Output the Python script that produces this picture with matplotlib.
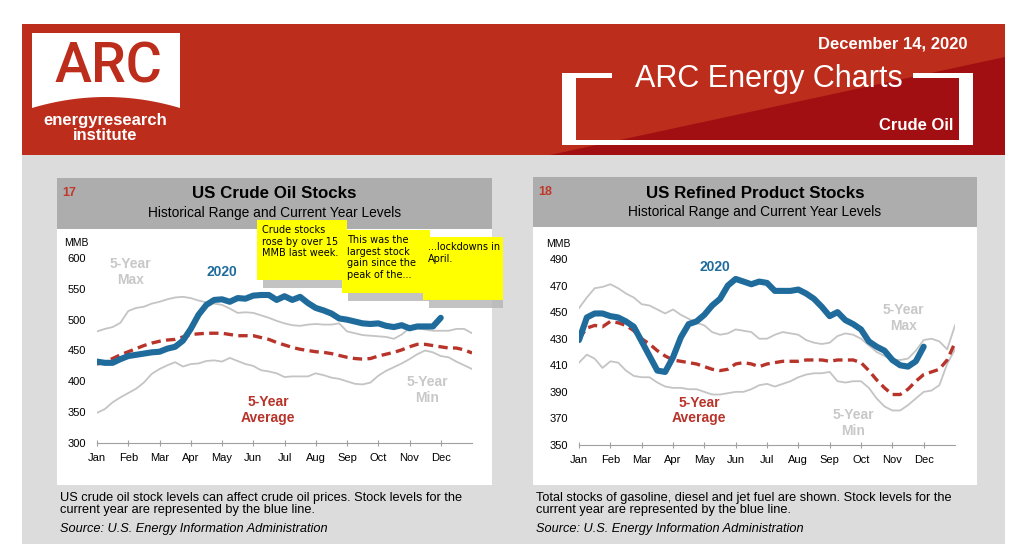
#!/usr/bin/env python3
"""ARC Energy Charts: US crude oil and refined product stocks (Dec 14, 2020)."""

import matplotlib

matplotlib.use("Agg")
import matplotlib.pyplot as plt
import numpy as np
from matplotlib.patches import Polygon, Rectangle

plt.rcParams["font.family"] = ["Liberation Sans", "DejaVu Sans"]

MONTHS = ["Jan", "Feb", "Mar", "Apr", "May", "Jun",
          "Jul", "Aug", "Sep", "Oct", "Nov", "Dec"]
STEP = 0.25  # months between samples (roughly weekly)

# --- US crude oil stocks, MMB ---
crude_2020 = [432, 430, 430, 436, 441, 443, 445, 447, 448, 453, 456, 466, 485,
              508, 524, 532, 533, 529, 535, 534, 539, 540, 540, 532, 538, 532,
              537, 527, 519, 515, 510, 502, 500, 497, 494, 493, 494, 490, 488,
              491, 486, 489, 489, 489, 503]
crude_max = [481, 485, 488, 495, 514, 519, 521, 526, 529, 533, 536, 537, 535,
             531, 528, 526, 524, 518, 511, 512, 511, 507, 503, 498, 494, 491,
             490, 492, 493, 492, 492, 494, 481, 478, 475, 474, 473, 472, 469,
             476, 486, 486, 484, 482, 482, 482, 485, 485, 478]
crude_min = [349, 355, 366, 374, 381, 388, 398, 412, 420, 426, 431, 424, 428,
             429, 433, 434, 432, 438, 433, 428, 425, 418, 416, 413, 407, 408,
             408, 408, 413, 410, 406, 404, 400, 396, 395, 398, 409, 417, 423,
             429, 436, 444, 450, 447, 441, 439, 432, 426, 420]
crude_avg = [428, 431, 437, 443, 448, 453, 458, 462, 465, 467, 468, 472, 476,
             477, 478, 478, 478, 476, 474, 474, 474, 471, 468, 463, 459, 455,
             452, 450, 448, 447, 445, 442, 439, 437, 436, 437, 441, 444, 447,
             451, 456, 460, 460, 458, 456, 454, 454, 451, 446]

# --- US refined product stocks, MMB ---
product_2020 = [429, 446, 449, 449, 447, 446, 443, 439, 428, 417, 406, 405, 416,
                431, 441, 443, 448, 455, 460, 470, 475, 473, 471, 473, 472, 466,
                466, 466, 467, 464, 460, 454, 447, 450, 444, 441, 437, 428, 424,
                421, 414, 410, 409, 413, 424]
product_max = [453, 461, 468, 469, 471, 468, 464, 461, 456, 455, 452, 449, 452,
               448, 445, 442, 440, 435, 433, 434, 437, 436, 435, 430, 430, 433,
               435, 434, 433, 429, 427, 426, 427, 432, 434, 433, 430, 425, 420,
               417, 414, 414, 415, 421, 429, 430, 428, 422, 440]
product_min = [412, 418, 415, 408, 413, 412, 406, 402, 401, 401, 397, 394, 393,
               393, 392, 392, 390, 388, 388, 389, 390, 390, 392, 395, 396, 394,
               396, 398, 401, 403, 404, 404, 405, 398, 397, 398, 398, 393, 385,
               379, 376, 376, 380, 385, 390, 391, 395, 411, 422]
product_avg = [430, 438, 440, 439, 443, 442, 440, 436, 430, 426, 421, 417, 414,
               413, 412, 411, 409, 407, 406, 407, 411, 412, 411, 409, 411, 412,
               413, 413, 413, 414, 414, 414, 413, 414, 414, 414, 412, 406, 399,
               393, 388, 388, 392, 398, 403, 405, 407, 414, 427]

crude_yticks = [300, 350, 400, 450, 500, 550, 600]
product_yticks = [350, 370, 390, 410, 430, 450, 470, 490]

RED = "#BD2D1C"
DARK_RED = "#A10F12"
BAND = "#DCDCDC"
TITLE_BOX = "#ADADAD"
BLUE = "#1E6B9C"
AVG_RED = "#B8342B"
RANGE_GRAY = "#C4C4C4"
LABEL_GRAY = "#C8C8C8"
NOTE_YELLOW = "#FFFF00"
NOTE_SHADOW = "#B4B4B4"

W, H = 1024, 544


def fig_rect(x0, y0, x1, y1):
    """Pixel box (top-left origin) -> figure fraction rect."""
    return [x0 / W, 1 - y1 / H, (x1 - x0) / W, (y1 - y0) / H]


def draw_header(bg):
    bg.add_patch(Rectangle((22, 24), 983, 131, color=RED, lw=0))
    bg.add_patch(Polygon([(550, 155), (1005, 57), (1005, 155)],
                         closed=True, color=DARK_RED, lw=0))
    bg.add_patch(Rectangle((22, 155), 983, H - 155, color=BAND, lw=0))

    # logo: white banner with a curved bottom edge
    xs = np.linspace(32, 180, 60)
    bottom = 97 + 11 * ((xs - 106) / 74) ** 2
    outline = [(32, 33), (180, 33)] + list(zip(xs[::-1], bottom[::-1]))
    bg.add_patch(Polygon(outline, closed=True, color="white", lw=0))
    bg.text(108, 67, "ARC", color=RED, fontsize=40, fontweight="medium",
            ha="center", va="center", family=["Roboto", "Liberation Sans"])
    bg.text(105, 121, "energyresearch", color="white", fontsize=12,
            fontweight="bold", ha="center", va="center")
    bg.text(105, 136, "institute", color="white", fontsize=12,
            fontweight="bold", ha="center", va="center")

    bg.text(968, 44, "December 14, 2020", color="white", fontsize=12,
            fontweight="bold", ha="right", va="center")
    for x, y, w, h in [(562, 73, 14, 72), (562, 73, 50, 5), (562, 140, 411, 5),
                       (959, 73, 14, 72), (913, 73, 60, 5)]:
        bg.add_patch(Rectangle((x, y), w, h, color="white", lw=0))
    bg.text(769, 79, "ARC Energy Charts", color="white", fontsize=22,
            ha="center", va="center")
    bg.text(953, 126, "Crude Oil", color="white", fontsize=12,
            fontweight="bold", ha="right", va="center")


def draw_panel(bg, x0, x1, y_title, y_white, number, title, caption):
    bg.add_patch(Rectangle((x0, y_title), x1 - x0, y_white - y_title,
                           color=TITLE_BOX, lw=0))
    bg.add_patch(Rectangle((x0, y_white), x1 - x0, 485 - y_white,
                           color="white", lw=0))
    cx = (x0 + x1) / 2
    bg.text(x0 + 5, y_title + 15, number, color="#C0392B", fontsize=9,
            fontweight="bold", ha="left", va="center")
    bg.text(cx, y_title + 16, title, fontsize=12.2, fontweight="bold",
            ha="center", va="center")
    bg.text(cx, y_title + 35, "Historical Range and Current Year Levels",
            fontsize=9.9, ha="center", va="center")
    bg.text(x0 + 3, 504, caption, fontsize=9.2, ha="left", va="center",
            linespacing=0.92)
    bg.text(x0 + 3, 529, "Source: U.S. Energy Information Administration",
            fontsize=9.2, style="italic", ha="left", va="center")


def draw_chart(ax, series_2020, series_max, series_min, series_avg,
               yticks, labels):
    n = len(series_max)
    x_full = np.arange(n) * STEP
    x_2020 = np.arange(len(series_2020)) * STEP

    ax.plot(x_full, series_max, color=RANGE_GRAY, lw=1.3, zorder=2)
    ax.plot(x_full, series_min, color=RANGE_GRAY, lw=1.3, zorder=2)
    ax.plot(x_full, series_avg, color=AVG_RED, lw=2.4, dashes=(2.8, 1.6),
            zorder=3)
    ax.plot(x_2020, series_2020, color=BLUE, lw=4.4, solid_joinstyle="round",
            solid_capstyle="round", zorder=4)

    ax.set_facecolor("none")
    ax.set_xlim(0, 12)
    ax.set_ylim(yticks[0], yticks[-1])
    ax.set_xticks(range(12))
    ax.set_xticklabels(MONTHS)
    ax.set_yticks(yticks)
    for side in ("left", "right", "top"):
        ax.spines[side].set_visible(False)
    ax.spines["bottom"].set_color("#A0A0A0")
    ax.tick_params(axis="x", length=4, direction="inout", color="#A0A0A0",
                   labelsize=8, pad=5)
    ax.tick_params(axis="y", length=0, labelsize=8, pad=8)
    ax.text(-0.022, 1.08, "MMB", transform=ax.transAxes, fontsize=7.5,
            ha="right", va="center")

    for text, x, y, color in labels:
        ax.text(x, y, text, color=color, fontsize=10, fontweight="bold",
                ha="center", va="center", linespacing=1.15)


def draw_notes(overlay):
    notes = [
        (257, 220, 347, 280, "Crude stocks\nrose by over 15\nMMB last week."),
        (342, 230, 430, 293,
         "This was the\nlargest stock\ngain since the\npeak of the..."),
        (423, 237, 503, 300, "...lockdowns in\nApril."),
    ]
    for x0, y0, x1, y1, text in notes:
        overlay.add_patch(Rectangle((x0 + 6, y0 + 8), x1 - x0 - 6, y1 - y0,
                                    color=NOTE_SHADOW, lw=0, alpha=0.8))
        overlay.add_patch(Rectangle((x0, y0), x1 - x0, y1 - y0,
                                    color=NOTE_YELLOW, lw=0))
        overlay.text(x0 + 5, y0 + 5, text, fontsize=7, ha="left", va="top",
                     family="DejaVu Sans", linespacing=1.2)


def main():
    fig = plt.figure(figsize=(W / 100, H / 100), dpi=100)
    fig.patch.set_facecolor("white")

    bg = fig.add_axes([0, 0, 1, 1])
    bg.set_xlim(0, W)
    bg.set_ylim(H, 0)
    bg.axis("off")

    draw_header(bg)
    draw_panel(bg, 57, 492, 178, 229, "17", "US Crude Oil Stocks",
               "US crude oil stock levels can affect crude oil prices. "
               "Stock levels for the\ncurrent year are represented by the "
               "blue line.")
    draw_panel(bg, 533, 977, 177, 227, "18", "US Refined Product Stocks",
               "Total stocks of gasoline, diesel and jet fuel are shown. "
               "Stock levels for the\ncurrent year are represented by the "
               "blue line.")

    ax1 = fig.add_axes(fig_rect(97, 258, 472, 443))
    draw_chart(ax1, crude_2020, crude_max, crude_min, crude_avg, crude_yticks,
               [("5-Year\nMax", 1.06, 577, LABEL_GRAY),
                ("2020", 4.0, 577, BLUE),
                ("5-Year\nAverage", 5.47, 353, AVG_RED),
                ("5-Year\nMin", 10.56, 386, LABEL_GRAY)])

    ax2 = fig.add_axes(fig_rect(579, 259, 955, 445))
    draw_chart(ax2, product_2020, product_max, product_min, product_avg,
               product_yticks,
               [("2020", 4.35, 484, BLUE),
                ("5-Year\nMax", 10.35, 445.6, LABEL_GRAY),
                ("5-Year\nAverage", 3.83, 376, AVG_RED),
                ("5-Year\nMin", 8.75, 366.5, LABEL_GRAY)])

    overlay = fig.add_axes([0, 0, 1, 1])
    overlay.set_xlim(0, W)
    overlay.set_ylim(H, 0)
    overlay.axis("off")
    draw_notes(overlay)

    fig.savefig("out.png", dpi=100)


if __name__ == "__main__":
    main()
